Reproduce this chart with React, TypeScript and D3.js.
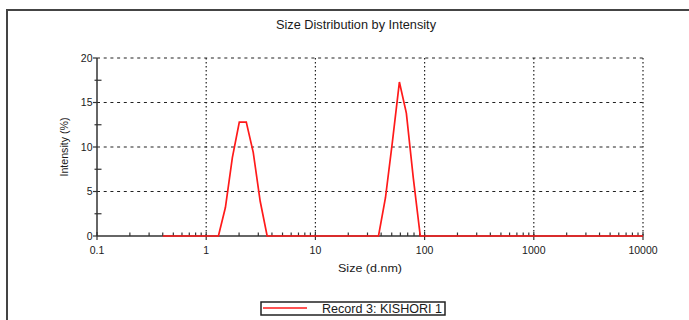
import React from "react";
import * as d3 from "d3";

const sizes: number[] = [
  0.4, 0.4632, 0.5365, 0.6213, 0.7195, 0.8332, 0.9649, 1.117, 1.294, 1.499,
  1.736, 2.01, 2.328, 2.696, 3.122, 3.615, 4.187, 4.849, 5.615, 6.503,
  7.531, 8.721, 10.1, 11.7, 13.54, 15.69, 18.17, 21.04, 24.36, 28.21,
  32.67, 37.84, 43.82, 50.75, 58.77, 68.06, 78.82, 91.28, 105.7, 122.4,
  141.8, 164.2, 190.1, 220.2, 255, 295.3, 342, 396.1, 458.7, 531.2,
  615.1, 712.4, 825, 955.4, 1106, 1281, 1484, 1718, 1990, 2305,
  2669, 3091, 3580, 4145, 4801, 5560, 6439, 7456, 8635, 10000,
];

const intensity: number[] = [
  0, 0, 0, 0, 0, 0, 0, 0, 0, 3.2,
  8.8, 12.8, 12.8, 9.4, 3.9, 0, 0, 0, 0, 0,
  0, 0, 0, 0, 0, 0, 0, 0, 0, 0,
  0, 0, 4.3, 10.6, 17.3, 13.8, 6.5, 0, 0, 0,
  0, 0, 0, 0, 0, 0, 0, 0, 0, 0,
  0, 0, 0, 0, 0, 0, 0, 0, 0, 0,
  0, 0, 0, 0, 0, 0, 0, 0, 0, 0,
];

const xMajorTicks: number[] = [0.1, 1, 10, 100, 1000, 10000];
const xTickLabels: string[] = ["0.1", "1", "10", "100", "1000", "10000"];
const yMajorTicks: number[] = [0, 5, 10, 15, 20];
const yMinorTicks: number[] = [2.5, 7.5, 12.5, 17.5];
const minorMultipliers: number[] = [2, 3, 4, 5, 6, 7, 8, 9];

const title = "Size Distribution by Intensity";
const xTitle = "Size (d.nm)";
const yTitle = "Intensity (%)";
const seriesName = "Record 3: KISHORI 1";

const W = 689;
const H = 320;
const FONT = "'Liberation Sans', Arial, Helvetica, sans-serif";
const TXT = "#1a1a1a";
const AX = "#333";

export default function App() {
  const x = d3.scaleLog().domain([0.1, 10000]).range([97, 643]);
  const y = d3.scaleLinear().domain([0, 20]).range([236, 58]);

  const data = sizes.map((s, i) => [s, intensity[i]] as [number, number]);
  const line = d3
    .line<[number, number]>()
    .x((d) => x(d[0]))
    .y((d) => y(d[1]));

  const minorX: number[] = [];
  xMajorTicks.forEach((base) => {
    if (base >= 10000) return;
    minorMultipliers.forEach((m) => minorX.push(base * m));
  });

  const [x0, x1] = x.range();
  const [yb, yt] = y.range();

  return (
    <div style={{ position: "absolute", left: 0, top: 0 }}>
      <svg width={W} height={H} style={{ display: "block" }}>
        <rect x={0} y={0} width={W} height={H} fill="#fff" />
        {/* frame */}
        <line x1={7} y1={10} x2={W} y2={10} stroke="#444" strokeWidth={2} />
        <line x1={7} y1={9} x2={7} y2={H} stroke="#444" strokeWidth={2} />

        {/* title */}
        <text
          x={356}
          y={29}
          textAnchor="middle"
          fontFamily={FONT}
          fontSize={12}
          fill={TXT}
          textLength={160}
          lengthAdjust="spacingAndGlyphs"
        >
          {title}
        </text>

        {/* horizontal grid */}
        {yMajorTicks
          .filter((t) => t > 0)
          .map((t) => (
            <line
              key={"hg" + t}
              x1={x0}
              x2={x1}
              y1={y(t)}
              y2={y(t)}
              stroke="#222"
              strokeWidth={1.1}
              strokeDasharray="3,3.7"
            />
          ))}
        {/* vertical grid */}
        {xMajorTicks
          .filter((t) => t > 0.1)
          .map((t) => (
            <line
              key={"vg" + t}
              x1={x(t)}
              x2={x(t)}
              y1={yt}
              y2={yb}
              stroke="#222"
              strokeWidth={1.2}
              strokeDasharray="1.5,2.5"
            />
          ))}

        {/* axes */}
        <line x1={x0} x2={x0} y1={yt} y2={yb} stroke={AX} strokeWidth={1.5} />
        <line x1={x0} x2={x1} y1={yb} y2={yb} stroke={AX} strokeWidth={1.5} />

        {/* y ticks */}
        {yMajorTicks.map((t) => (
          <g key={"yt" + t}>
            <line x1={x0 - 4} x2={x0} y1={y(t)} y2={y(t)} stroke={AX} strokeWidth={1.2} />
            <text
              x={x0 - 4.5}
              y={y(t)}
              dy="0.35em"
              textAnchor="end"
              fontFamily={FONT}
              fontSize={10.5}
              fill={TXT}
            >
              {t}
            </text>
          </g>
        ))}
        {yMinorTicks.map((t) => (
          <line key={"ym" + t} x1={x0 - 2.5} x2={x0 + 4.5} y1={y(t)} y2={y(t)} stroke={AX} strokeWidth={1.2} />
        ))}

        {/* x ticks */}
        {xMajorTicks.map((t, i) => (
          <g key={"xt" + t}>
            <line x1={x(t)} x2={x(t)} y1={yb - 4} y2={yb + 4} stroke={AX} strokeWidth={1.2} />
            <text x={x(t)} y={254} textAnchor="middle" fontFamily={FONT} fontSize={10.5} fill={TXT}>
              {xTickLabels[i]}
            </text>
          </g>
        ))}
        {minorX.map((t) => (
          <line key={"xm" + t} x1={x(t)} x2={x(t)} y1={yb - 3.5} y2={yb} stroke={AX} strokeWidth={1.2} />
        ))}

        {/* series */}
        <path d={line(data) || ""} fill="none" stroke="#ff1a1a" strokeWidth={1.7} strokeLinejoin="miter" />

        {/* axis titles */}
        <text
          x={370}
          y={272}
          textAnchor="middle"
          fontFamily={FONT}
          fontSize={11}
          fill={TXT}
          textLength={64}
          lengthAdjust="spacingAndGlyphs"
        >
          {xTitle}
        </text>
        <text
          transform={`translate(68,147) rotate(-90)`}
          textAnchor="middle"
          fontFamily={FONT}
          fontSize={10.5}
          fill={TXT}
          textLength={59}
          lengthAdjust="spacingAndGlyphs"
        >
          {yTitle}
        </text>

        {/* legend */}
        <rect x={261} y={302} width={184} height={13} fill="#fff" stroke="#222" strokeWidth={1.5} />
        <line x1={263} x2={307} y1={308} y2={308} stroke="#ff1a1a" strokeWidth={1.5} />
        <text
          x={322}
          y={312.5}
          fontFamily={FONT}
          fontSize={12}
          fill={TXT}
          textLength={120}
          lengthAdjust="spacingAndGlyphs"
        >
          {seriesName}
        </text>
      </svg>
    </div>
  );
}
